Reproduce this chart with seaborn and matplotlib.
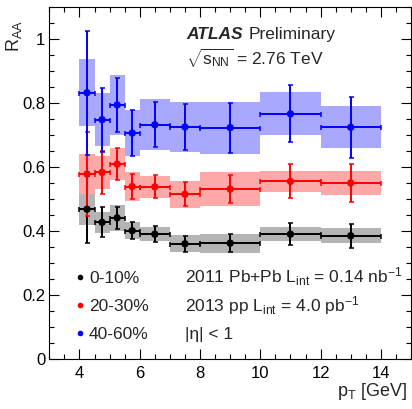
import numpy as np
import pandas as pd
import seaborn as sns
import matplotlib
matplotlib.use("Agg")
import matplotlib.pyplot as plt
from matplotlib.ticker import MultipleLocator, FuncFormatter

# ---------------- data ----------------
pt = [4.25, 4.75, 5.25, 5.75, 6.5, 7.5, 9.0, 11.0, 13.0]
half_width = [0.25, 0.25, 0.25, 0.25, 0.5, 0.5, 1.0, 1.0, 1.0]

centralities = ["0-10%", "20-30%", "40-60%"]

raa_0_10 = [0.469, 0.428, 0.442, 0.402, 0.391, 0.361, 0.363, 0.391, 0.386]
stat_0_10 = [0.104, 0.047, 0.034, 0.026, 0.025, 0.025, 0.028, 0.034, 0.037]
sys_0_10 = [0.048, 0.032, 0.040, 0.027, 0.022, 0.027, 0.030, 0.022, 0.023]

raa_20_30 = [0.579, 0.584, 0.610, 0.540, 0.539, 0.516, 0.532, 0.556, 0.551]
stat_20_30 = [0.130, 0.067, 0.051, 0.040, 0.036, 0.038, 0.043, 0.053, 0.060]
sys_20_30 = [0.062, 0.051, 0.051, 0.045, 0.034, 0.042, 0.052, 0.034, 0.036]

raa_40_60 = [0.833, 0.749, 0.795, 0.707, 0.733, 0.726, 0.724, 0.767, 0.725]
stat_40_60 = [0.193, 0.100, 0.085, 0.072, 0.070, 0.072, 0.078, 0.089, 0.096]
sys_40_60 = [0.105, 0.082, 0.095, 0.073, 0.080, 0.077, 0.081, 0.067, 0.066]

line_colors = {"0-10%": "#000000", "20-30%": "#ff0000", "40-60%": "#0000ff"}
fill_colors = {"0-10%": "#b4b4b4", "20-30%": "#ffa8a8", "40-60%": "#a8a8ff"}

frames = []
for c, r, s, y in [("0-10%", raa_0_10, stat_0_10, sys_0_10),
                   ("20-30%", raa_20_30, stat_20_30, sys_20_30),
                   ("40-60%", raa_40_60, stat_40_60, sys_40_60)]:
    frames.append(pd.DataFrame({"pt": pt, "hw": half_width, "raa": r,
                                "stat": s, "sys": y, "cent": c}))
df = pd.concat(frames, ignore_index=True)

# ---------------- style ----------------
sns.set_style("ticks")
plt.rcParams["font.family"] = ["Liberation Sans", "DejaVu Sans"]
plt.rcParams["mathtext.fontset"] = "custom"
plt.rcParams["mathtext.rm"] = "Liberation Sans"
plt.rcParams["mathtext.it"] = "Liberation Sans:italic"
plt.rcParams["mathtext.bf"] = "Liberation Sans:bold"

fig = plt.figure(figsize=(4.12, 4.09), dpi=100)
ax = fig.add_axes([0.1197, 0.1215, 0.8779, 0.8606])

# systematic boxes
for c in centralities:
    sub = df[df["cent"] == c]
    ax.bar(sub["pt"], 2 * sub["sys"], width=2 * sub["hw"],
           bottom=sub["raa"] - sub["sys"], color=fill_colors[c],
           edgecolor="none", zorder=1)

# statistical errors
for c in centralities:
    sub = df[df["cent"] == c]
    ax.errorbar(sub["pt"], sub["raa"], xerr=sub["hw"], yerr=sub["stat"],
                fmt="none", ecolor=line_colors[c], elinewidth=1.4,
                capsize=1.8, capthick=1.1, zorder=2)

sns.scatterplot(data=df, x="pt", y="raa", hue="cent", palette=line_colors,
                s=28, linewidth=0, legend=False, ax=ax, zorder=3)

ax.set_xlim(3, 15)
ax.set_ylim(0, 1.1)
ax.xaxis.set_major_locator(MultipleLocator(2))
ax.xaxis.set_minor_locator(MultipleLocator(0.5))
ax.yaxis.set_major_locator(MultipleLocator(0.2))
ax.yaxis.set_minor_locator(MultipleLocator(0.05))
ax.yaxis.set_major_formatter(FuncFormatter(lambda v, p: f"{v:g}"))
ax.xaxis.set_major_formatter(FuncFormatter(lambda v, p: f"{v:g}"))
ax.tick_params(which="both", direction="in", top=True, right=True,
               width=0.8, colors="black", labelsize=12)
ax.tick_params(which="major", length=7)
ax.tick_params(which="minor", length=3.5)
ax.tick_params(axis="y", pad=3)
ax.tick_params(axis="x", pad=5)
for sp in ax.spines.values():
    sp.set_color("black")
    sp.set_linewidth(0.8)
ax.set_xlabel("")
ax.set_ylabel("")

W, H = 412.0, 409.0
def fx(px):
    return px / W
def fy(py):
    return 1 - py / H

fig.text(fx(14), fy(20), r"R$_{\mathrm{AA}}$", rotation=90, ha="center",
         va="top", fontsize=13)
fig.text(fx(407), fy(396), r"p$_{\mathrm{T}}$ [GeV]", ha="right",
         va="baseline", fontsize=13)

fig.text(fx(186), fy(39), "ATLAS", fontsize=12.5, fontweight="bold",
         fontstyle="italic", va="baseline")
fig.text(fx(249), fy(39), "Preliminary", fontsize=12.5, va="baseline")
fig.text(fx(186), fy(65), r"$\sqrt{\mathrm{s}_{\mathrm{NN}}}$ = 2.76 TeV",
         fontsize=12.5, va="baseline")

leg_y = [283, 311, 339]
for c, yy in zip(centralities, leg_y):
    ax.plot([fx(80)], [fy(yy - 6)], "o", color=line_colors[c], ms=3.0,
            transform=fig.transFigure, clip_on=False)
    fig.text(fx(89), fy(yy), c, fontsize=12.5, va="baseline")

fig.text(fx(185), fy(leg_y[0]),
         r"2011 Pb+Pb L$_{\mathrm{int}}$ = 0.14 nb$^{\mathrm{-1}}$",
         fontsize=12.5, va="baseline")
fig.text(fx(185), fy(leg_y[1]),
         r"2013 pp L$_{\mathrm{int}}$ = 4.0 pb$^{\mathrm{-1}}$",
         fontsize=12.5, va="baseline")
fig.text(fx(185), fy(leg_y[2]), "|η| < 1", fontsize=12.5,
         va="baseline")

fig.savefig("out.png", dpi=100)
